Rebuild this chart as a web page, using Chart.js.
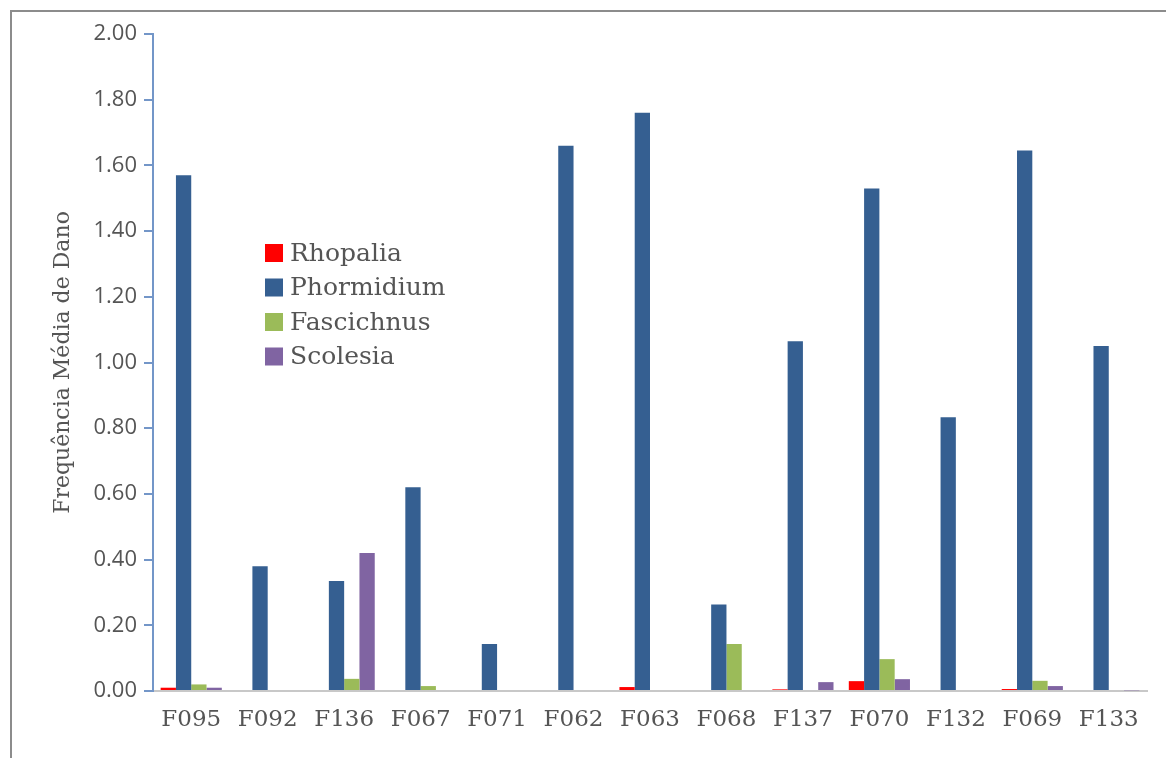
<!DOCTYPE html>
<html>
<head>
<meta charset="utf-8">
<script src="https://cdn.jsdelivr.net/npm/chart.js@4"></script>
<style>
  html, body { margin: 0; padding: 0; background: #fff; }
  #wrap { position: absolute; left: 0; top: 0; width: 1166px; height: 758px; }
  #frame {
    position: absolute; left: 10px; top: 10px; right: 0; bottom: 0;
    border-top: 2px solid #8c8c8c; border-left: 2px solid #8c8c8c;
  }
</style>
</head>
<body>
<div id="frame"></div>
<div id="wrap"><canvas id="damageChart"></canvas></div>
<script>
// Mean damage frequency per sample
const categories = ["F095", "F092", "F136", "F067", "F071", "F062", "F063", "F068", "F137", "F070", "F132", "F069", "F133"];
const seriesNames = ["Rhopalia", "Phormidium", "Fascichnus", "Scolesia"];
const rhopalia   = [0.010, 0, 0, 0, 0, 0, 0.012, 0, 0.005, 0.030, 0, 0.006, 0.003];
const phormidium = [1.57, 0.38, 0.335, 0.62, 0.143, 1.66, 1.76, 0.263, 1.065, 1.53, 0.833, 1.645, 1.05];
const fascichnus = [0.020, 0, 0.037, 0.015, 0, 0, 0, 0.143, 0, 0.097, 0, 0.031, 0];
const scolesia   = [0.010, 0, 0.420, 0, 0, 0, 0, 0, 0.027, 0.036, 0, 0.015, 0.002];
const yTicks = [0, 0.2, 0.4, 0.6, 0.8, 1.0, 1.2, 1.4, 1.6, 1.8, 2.0];

const COLORS = ["#ff0000", "#355f91", "#9bbb59", "#8064a2"];
const TEXT = "#555555";
const SERIF = "'DejaVu Serif', serif";

// Legend drawn inside the plot, as in the original
const innerLegend = {
  id: "innerLegend",
  afterDraw(chart) {
    const ctx = chart.ctx;
    ctx.save();
    ctx.font = "25px " + SERIF;
    ctx.textBaseline = "middle";
    chart.data.datasets.forEach((ds, i) => {
      const y = 253 + i * 34.5;
      ctx.fillStyle = ds.backgroundColor;
      ctx.fillRect(265, y - 9, 18, 18);
      ctx.fillStyle = TEXT;
      ctx.fillText(ds.label, 290, y + 1);
    });
    ctx.restore();
  }
};

const values = [rhopalia, phormidium, fascichnus, scolesia];
const datasets = seriesNames.map((name, i) => ({
  label: name,
  data: values[i],
  backgroundColor: COLORS[i],
  categoryPercentage: 0.8,
  barPercentage: 1.0,
}));

new Chart(document.getElementById("damageChart").getContext("2d"), {
  type: "bar",
  data: { labels: categories, datasets },
  options: {
    responsive: true,
    maintainAspectRatio: false,
    animation: false,
    layout: { padding: { top: 34, right: 19, bottom: 10, left: 12 } },
    plugins: {
      legend: { display: false },
      tooltip: { enabled: false },
    },
    scales: {
      x: {
        grid: { display: false, drawTicks: false },
        border: { display: true, color: "#c8c8c8", width: 2 },
        ticks: {
          color: TEXT,
          font: { family: SERIF, size: 23 },
          padding: 15,
          maxRotation: 0,
        },
        afterFit: s => { s.height = 57; },
      },
      y: {
        min: 0,
        max: 2,
        afterBuildTicks: s => { s.ticks = yTicks.map(v => ({ value: v })); },
        grid: { display: true, drawOnChartArea: false, drawTicks: true, tickLength: 9, color: "#7396c8", lineWidth: 2 },
        border: { display: true, color: "#7396c8", width: 2 },
        ticks: {
          color: TEXT,
          font: { family: "'Open Sans', sans-serif", size: 22 },
          padding: 7,
          callback: v => Number(v).toFixed(2),
        },
        title: {
          display: true,
          text: "Frequência Média de Dano",
          color: TEXT,
          font: { family: SERIF, size: 22 },
          padding: { top: 38, bottom: 0 },
        },
        afterFit: s => { s.width = 141; },
      },
    },
  },
  plugins: [innerLegend],
});
</script>
</body>
</html>
